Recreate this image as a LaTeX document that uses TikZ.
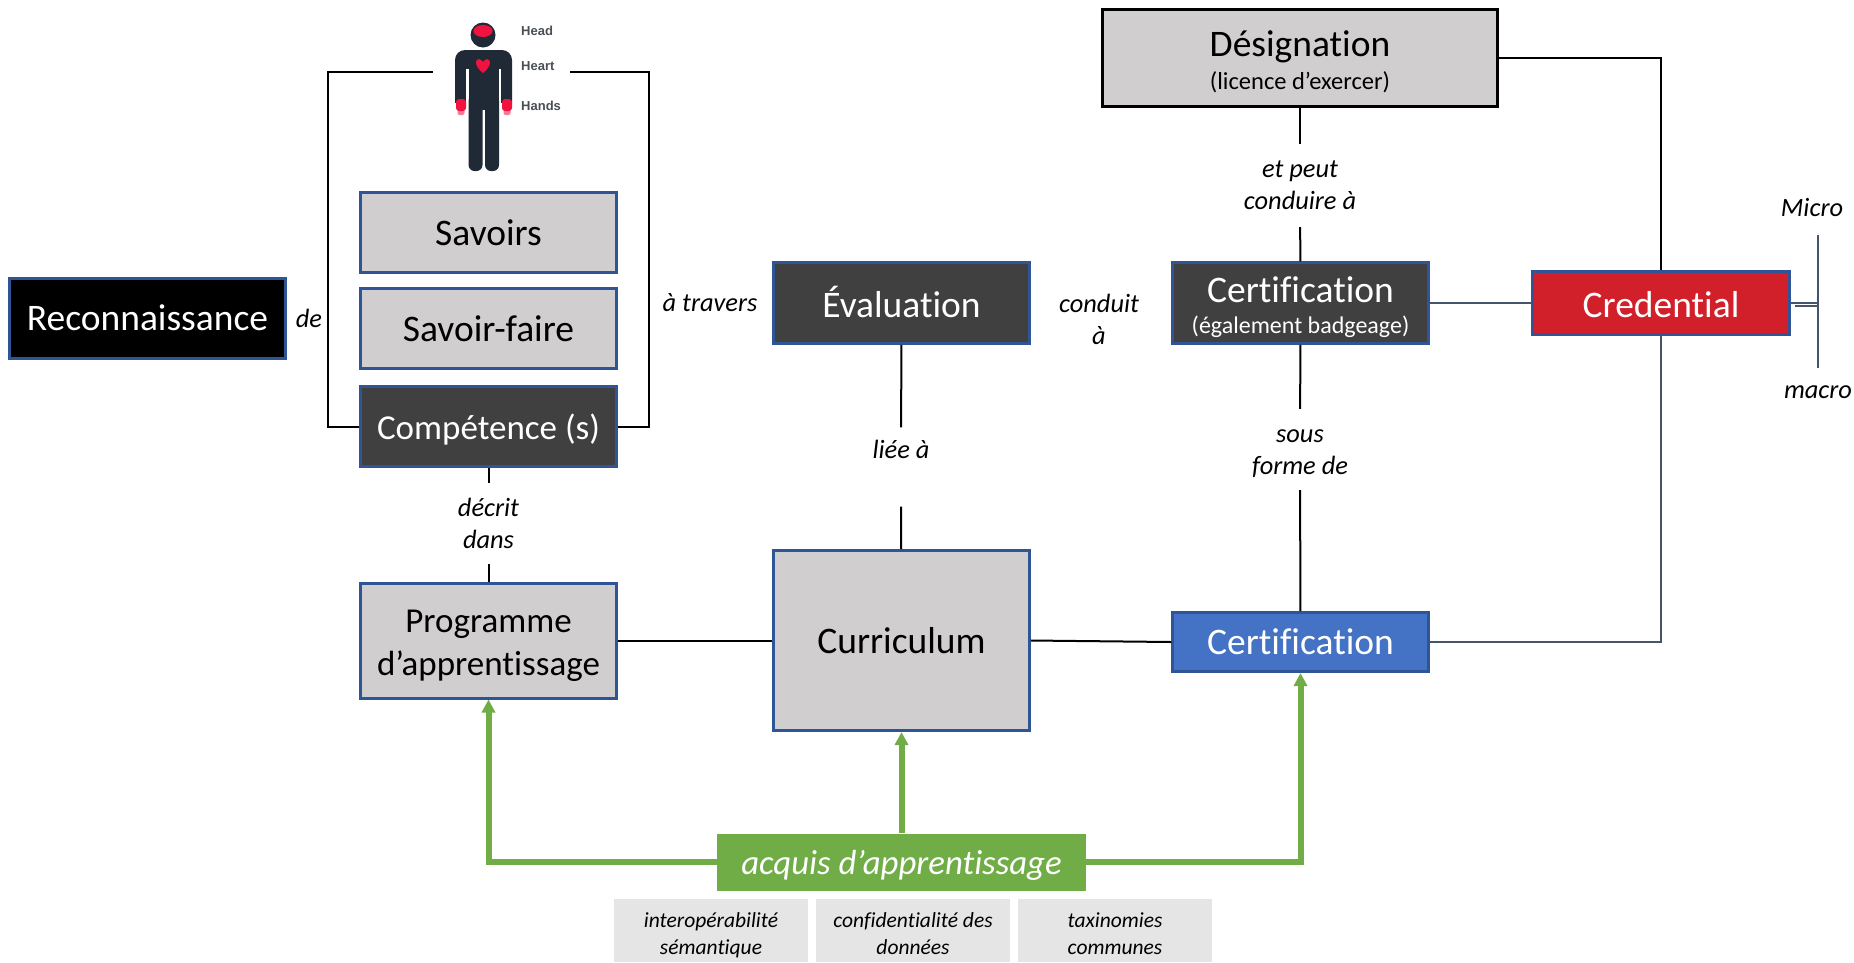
\documentclass[tikz,border=0pt]{standalone}
\usepackage{fontspec}
\setmainfont[Ligatures=NoCommon]{Carlito}
\newfontfamily\figfont{Liberation Sans}
\usetikzlibrary{arrows.meta}
\definecolor{edgeblue}{HTML}{2F5597}
\definecolor{slateline}{HTML}{44546A}
\definecolor{lightbox}{HTML}{D0CECE}
\definecolor{darkbox}{HTML}{404040}
\definecolor{bluebox}{HTML}{4472C4}
\definecolor{redbox}{HTML}{D2202A}
\definecolor{greenbox}{HTML}{70AD47}
\definecolor{palebox}{HTML}{E5E5E5}
\definecolor{figdark}{HTML}{1F2A36}
\definecolor{figred}{HTML}{F0123F}
\definecolor{figtext}{HTML}{4A4F57}
\newcommand{\fsz}[2]{\fontsize{#1}{#2}\selectfont}
\newcommand{\dn}[2]{\raisebox{-#1}[\height][\depth]{#2}}
\tikzset{
  x=1pt,y=-1pt,
  boxbase/.style={draw=edgeblue,line width=3pt,inner sep=0pt,align=center,font=\fsz{37.5}{42}},
  lightnode/.style={boxbase,fill=lightbox,text=black},
  darknode/.style={boxbase,fill=darkbox,text=white},
  paleitem/.style={fill=palebox,inner sep=0pt,align=center,minimum width=194pt,minimum height=63pt,font=\itshape\fsz{21.5}{27}},
  lbl/.style={inner sep=0pt,align=center,font=\itshape\fsz{26.4}{32},text=black},
  conn/.style={draw=black,line width=2pt},
  slateconn/.style={draw=slateline,line width=2pt},
  greenconn/.style={draw=greenbox,line width=6pt,-{Triangle[length=13pt,width=13pt]}},
  figlabel/.style={inner sep=0pt,anchor=west,font=\figfont\bfseries\fsz{13}{14},text=figtext},
}
\begin{document}
\begin{tikzpicture}
\useasboundingbox (0,0) rectangle (1854,962);
% Boxes
\node[boxbase,fill=black,text=white,minimum width=276pt,minimum height=80pt] (reco) at (147.5,318) {Reconnaissance};
\node[lightnode,minimum width=255.5pt,minimum height=80pt] (sav) at (488.5,232.5) {Savoirs};
\node[lightnode,minimum width=255.5pt,minimum height=80pt] (savf) at (488.5,328.5) {Savoir-faire};
\node[darknode,minimum width=255.5pt,minimum height=80pt,font=\fsz{35}{42}] (comp) at (488.5,426.5) {\dn{3.5pt}{Compétence (s)}};
\node[lightnode,minimum width=255.5pt,minimum height=115pt,font=\fsz{35}{42}] (prog) at (488.5,640.5) {\dn{4.7pt}{Programme}\\\dn{5.9pt}{d’apprentissage}};
\node[darknode,minimum width=255.5pt,minimum height=80.5pt] (eval) at (901.5,303) {\dn{-1.2pt}{Évaluation}};
\node[lightnode,minimum width=255.5pt,minimum height=180pt] (curr) at (901.5,640.5) {Curriculum};
\node[darknode,minimum width=255.5pt,minimum height=80.5pt] (certd) at (1300.5,303) {\dn{5.9pt}{Certification}\\[-7pt]{\fsz{24}{26}\dn{2.4pt}{(également badgeage)}}};
\node[boxbase,fill=bluebox,text=white,minimum width=255.5pt,minimum height=59pt] (certb) at (1300.5,642) {Certification};
\node[boxbase,fill=redbox,text=white,minimum width=256.5pt,minimum height=63pt] (cred) at (1661,303) {\dn{1.2pt}{Credential}};
\node[boxbase,draw=black,fill=lightbox,text=black,minimum width=395pt,minimum height=97pt] (desig) at (1300,58) {\dn{4.7pt}{Désignation}\\[-7pt]{\fsz{24.5}{26}\dn{2.4pt}{(licence d’exercer)}}};
\node[fill=greenbox,text=white,inner sep=0pt,minimum width=369pt,minimum height=57pt,font=\itshape\fsz{34.8}{40}] (acq) at (901.5,862) {\dn{3.5pt}{acquis d’apprentissage}};
\node[paleitem] (p1) at (711,930.5) {\strut\dn{4.7pt}{interopérabilité}\\\strut\dn{4.7pt}{sémantique}};
\node[paleitem] (p2) at (913,930.5) {\strut\dn{4.7pt}{confidentialité des}\\\strut\dn{4.7pt}{données}};
\node[paleitem] (p3) at (1115,930.5) {\strut\dn{4.7pt}{taxinomies}\\\strut\dn{4.7pt}{communes}};
% Labels
\node[lbl] (lde) at (309,318) {de};
\node[lbl] (ltr) at (710,303) {à travers};
\node[lbl] (lcon) at (1099,319) {conduit\\à};
\node[lbl,minimum height=83pt] (lpeut) at (1300,185.5) {et peut\\conduire à};
\node[lbl,minimum height=81pt] (lsous) at (1300,453.5) {sous\\forme de};
\node[lbl,minimum height=79pt] (llie) at (901,467) {\dn{3.5pt}{liée à}\\\strut};
\node[lbl,minimum height=81pt] (ldec) at (488.5,523.5) {décrit\\dans};
\node[lbl] (lmicro) at (1812,208) {Micro};
\node[lbl] (lmacro) at (1818,392) {macro};
% Free ends
\coordinate (bl) at (433,72);
\coordinate (bc) at (328,72);
\coordinate (br) at (570,72);
\coordinate (bd) at (649,72);
\coordinate (mt) at (1818,235);
\coordinate (mb) at (1818,368);
\coordinate (m1) at (1818,303);
\coordinate (m2a) at (1795,306);
\coordinate (m2b) at (1818,306);
% Connectors
\draw[conn] (comp.west) -| (bc) -- (bl);
\draw[conn] (comp.east) -| (bd) -- (br);
\draw[conn] (comp) -- (ldec);
\draw[conn] (ldec) -- (prog);
\draw[conn] (eval) -- (llie);
\draw[conn] (llie) -- (curr);
\draw[conn] (desig) -- (lpeut);
\draw[conn] (lpeut) -- (certd);
\draw[conn,shorten >=4pt] (certd) -- (lsous);
\draw[conn,shorten <=-4pt] (lsous) -- (certb);
\draw[conn] (prog.east) -- (curr.west);
\draw[conn] (curr.east) -- (certb.west);
\draw[conn] (desig.east) -| (cred.north);
\draw[slateconn] (certd.east) -- (cred.west);
\draw[slateconn] (certb.east) -| (cred.south);
\draw[slateconn] (mt) -- (mb);
\draw[slateconn] (cred.east) -- (m1);
\draw[slateconn] (m2a) -- (m2b);
\draw[greenconn] (acq.west) -| (prog.south);
\draw[greenconn] (acq.north) -- (curr.south);
\draw[greenconn] (acq.east) -| (certb.south);
% Head, heart, hands figure
\fill[figdark] (483,35) circle (12.5);
\fill[figred] (483,31) ellipse (9.5 and 6);
\fill[figdark,rounded corners=10pt] (455,50) rectangle (512,120);
\fill[white] (466,69) rectangle (468.5,125);
\fill[white] (498.5,69) rectangle (501,125);
\fill[white] (450,103) rectangle (517,125);
\fill[figdark] (468.5,90) rectangle (499,110);
\fill[figdark,rounded corners=6pt] (468.5,95) rectangle (482.5,171);
\fill[figdark,rounded corners=6pt] (485,95) rectangle (499,171);
\fill[figred,rounded corners=3pt] (456,99) rectangle (466,111);
\fill[figred,rounded corners=3pt] (502,99) rectangle (512,111);
\fill[figred,opacity=.55,rounded corners=2pt] (457.5,109) rectangle (464.5,115);
\fill[figred,opacity=.55,rounded corners=2pt] (503.5,109) rectangle (510.5,115);
\fill[figred] (483,73) .. controls (475,67) and (474,59) .. (479,59) .. controls (481,59) and (483,62) .. (483,62) .. controls (483,62) and (485,59) .. (487,59) .. controls (492,59) and (491,67) .. (483,73) -- cycle;
\node[figlabel] (fh1) at (521,31) {Head};
\node[figlabel] (fh2) at (521,66) {Heart};
\node[figlabel] (fh3) at (521,106) {Hands};
\end{tikzpicture}
\end{document}
